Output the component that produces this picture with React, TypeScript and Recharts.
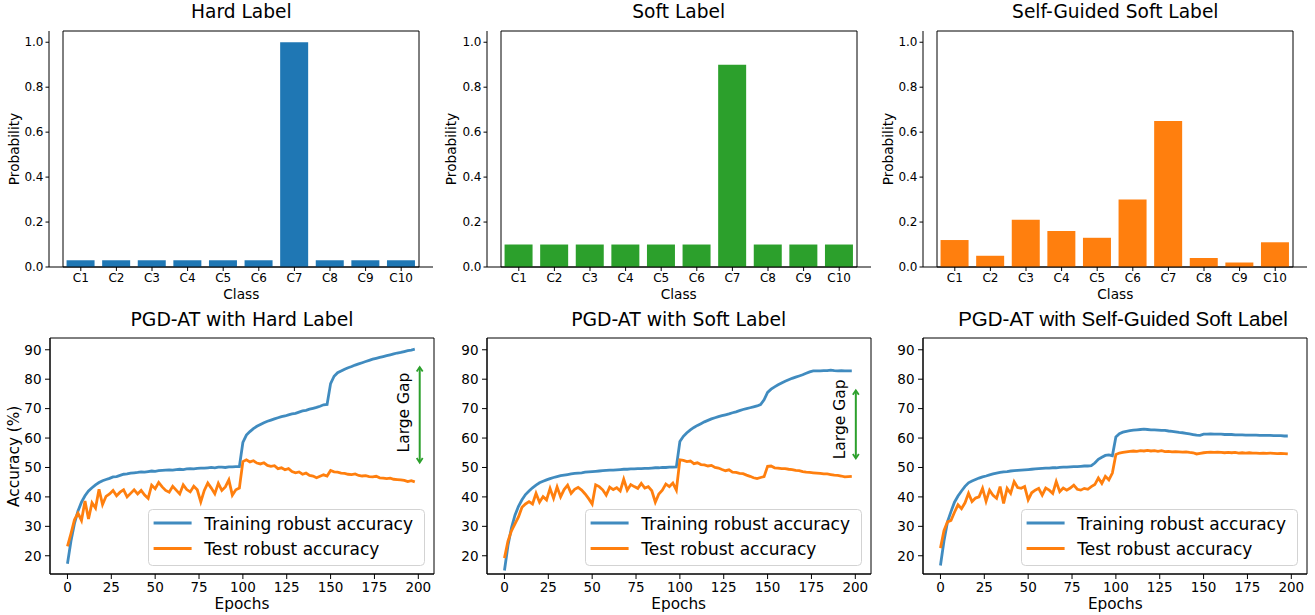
import React from "react";
import { Bar, BarChart, Legend, Line, LineChart, ReferenceArea, ReferenceLine, XAxis, YAxis } from "recharts";

const FONT = '"DejaVu Sans", sans-serif';
const BLUE = "#1f77b4";
const ORANGE = "#ff7f0e";
const GREEN = "#2ca02c";

// label distributions (top row)
const CLASSES = ["C1", "C2", "C3", "C4", "C5", "C6", "C7", "C8", "C9", "C10"];
const HARD_PROBS = [0.03, 0.03, 0.03, 0.03, 0.03, 0.03, 1.0, 0.03, 0.03, 0.03];
const SOFT_PROBS = [0.1, 0.1, 0.1, 0.1, 0.1, 0.1, 0.9, 0.1, 0.1, 0.1];
const SELF_PROBS = [0.12, 0.05, 0.21, 0.16, 0.13, 0.3, 0.65, 0.04, 0.02, 0.11];
const PROB_TICKS = [0, 0.2, 0.4, 0.6, 0.8, 1.0];
const PROB_DOMAIN = [0, 1.05];

// robust accuracy curves (bottom row), one value every EPOCH_STEP epochs
const EPOCH_STEP = 2;
const EPOCH_TICKS = [0, 25, 50, 75, 100, 125, 150, 175, 200];
const EPOCH_DOMAIN = [-9.95, 208.95];
const ACC_TICKS = [20, 30, 40, 50, 60, 70, 80, 90];
const ACC_DOMAIN = [13.8, 94];

const HARD_TRAIN = [
  17.3, 25.0, 31.0, 35.2, 38.2, 40.4, 42.0, 43.1, 44.1, 44.9,
  45.5, 45.9, 46.3, 46.8, 46.9, 47.3, 47.7, 47.8, 48.1, 48.2,
  48.3, 48.5, 48.4, 48.6, 48.8, 48.7, 48.9, 49.0, 49.1, 49.2,
  49.1, 49.3, 49.4, 49.3, 49.5, 49.6, 49.5, 49.7, 49.8, 49.8,
  49.9, 50.0, 49.9, 50.1, 50.1, 50.0, 50.2, 50.2, 50.3, 50.3,
  58.5, 61.0, 62.2, 63.2, 64.0, 64.6, 65.2, 65.7, 66.1, 66.5,
  66.9, 67.3, 67.5, 67.9, 68.2, 68.4, 68.8, 69.2, 69.4, 69.8,
  70.1, 70.4, 70.8, 71.3, 71.4, 78.5, 81.0, 82.2, 82.8, 83.4,
  83.9, 84.3, 84.8, 85.2, 85.6, 86.0, 86.4, 86.8, 87.1, 87.4,
  87.7, 88.0, 88.3, 88.6, 88.9, 89.1, 89.4, 89.7, 89.9, 90.2,
];
const HARD_TEST = [
  23.2, 27.5, 32.2, 34.5, 32.0, 38.6, 32.5, 38.0, 36.2, 42.6,
  37.4, 40.2, 41.0, 42.2, 40.4, 41.6, 42.4, 40.0, 41.2, 42.4,
  41.0, 42.2, 40.6, 39.5, 44.0, 42.8, 44.9, 43.4, 42.2, 41.6,
  43.6, 42.3, 41.0, 44.1, 42.5, 41.7, 43.6, 42.4, 38.3, 42.2,
  44.7, 43.0, 41.1, 44.6, 42.2, 43.4, 45.8, 40.6, 42.4, 43.0,
  52.0, 52.6, 51.9, 52.3, 51.5, 51.2, 51.6, 50.7, 50.4, 50.6,
  49.6, 49.9, 49.2, 49.6, 48.6, 48.2, 48.5, 47.7, 48.1, 47.3,
  47.1, 46.5, 47.0, 47.5, 47.1, 49.0, 48.5, 48.4, 48.1, 48.0,
  47.7, 47.6, 47.8, 47.3, 47.1, 47.2, 46.9, 46.8, 47.0, 46.5,
  46.4, 46.2, 46.4, 46.0, 45.9, 45.8, 45.6, 45.2, 45.5, 45.1,
];
const SOFT_TRAIN = [
  15.0, 23.5, 29.5, 33.8, 36.8, 39.0, 40.8, 42.0, 43.1, 44.0,
  44.8, 45.3, 45.8, 46.2, 46.6, 46.9, 47.2, 47.4, 47.6, 47.8,
  48.0, 48.1, 48.2, 48.4, 48.5, 48.6, 48.7, 48.8, 48.9, 49.0,
  49.1, 49.1, 49.2, 49.3, 49.4, 49.4, 49.5, 49.5, 49.6, 49.6,
  49.7, 49.7, 49.8, 49.9, 49.9, 50.0, 50.0, 50.1, 50.1, 50.2,
  58.8, 60.6, 61.8, 62.8, 63.6, 64.3, 64.9, 65.5, 66.0, 66.5,
  66.9, 67.3, 67.6, 67.9, 68.2, 68.6, 68.9, 69.3, 69.7, 70.0,
  70.3, 70.6, 70.9, 71.4, 73.0, 75.5, 76.6, 77.4, 78.1, 78.7,
  79.3, 79.8, 80.3, 80.7, 81.1, 81.5, 82.0, 82.5, 82.8, 82.8,
  82.8, 82.9, 82.9, 83.1, 82.9, 82.8, 82.9, 82.8, 82.8, 82.8,
];
const SOFT_TEST = [
  19.2, 25.0, 28.5, 30.8, 33.2, 36.5, 37.6, 38.4, 37.6, 41.2,
  38.2, 40.1, 39.0, 42.9, 39.5, 43.4, 40.0, 42.5, 44.0, 41.2,
  42.6, 43.2, 42.3, 41.0, 39.4, 37.6, 44.1, 43.5, 42.4, 40.6,
  43.3, 42.5, 43.1, 42.0, 46.0, 42.3, 44.2, 43.5, 42.9, 44.6,
  43.0, 43.5, 42.1, 38.2, 41.0, 42.3, 44.4, 43.5, 44.7, 42.3,
  52.6, 52.4, 52.0, 52.2, 51.3, 51.6, 51.0, 50.9, 50.5, 50.7,
  50.0, 49.8, 49.3, 48.9, 49.2, 48.4, 48.3, 48.0, 47.9, 47.4,
  47.0, 46.5, 46.2, 46.6, 46.9, 50.4, 50.5, 49.9, 49.8, 49.6,
  49.6, 49.4, 49.3, 49.0, 48.9, 48.6, 48.4, 48.3, 48.2, 48.1,
  48.0, 47.8, 47.8, 47.6, 47.4, 47.3, 47.1, 46.8, 46.9, 47.0,
];
const SELF_TRAIN = [
  16.7, 25.0, 31.5, 35.0, 38.2, 40.3, 42.0, 43.6, 44.8, 45.4,
  45.9, 46.4, 46.8, 47.1, 47.5, 47.8, 48.1, 48.3, 48.5, 48.6,
  48.8, 48.9, 49.0, 49.1, 49.2, 49.3, 49.4, 49.5, 49.6, 49.7,
  49.8, 49.8, 49.9, 49.9, 50.0, 50.1, 50.1, 50.2, 50.3, 50.3,
  50.4, 50.5, 50.5, 50.6, 51.5, 52.8, 53.5, 54.1, 54.3, 54.0,
  60.4, 61.5, 62.0, 62.3, 62.5, 62.7, 62.8, 62.9, 63.0, 62.9,
  62.8, 62.8, 62.7, 62.6, 62.6, 62.4, 62.3, 62.1, 61.9, 61.8,
  61.6, 61.4, 61.2, 61.0, 60.9, 61.3, 61.3, 61.4, 61.3, 61.3,
  61.3, 61.2, 61.2, 61.2, 61.1, 61.1, 61.1, 61.0, 61.0, 61.0,
  61.0, 60.9, 60.9, 60.9, 60.9, 60.8, 60.8, 60.8, 60.7, 60.7,
];
const SELF_TEST = [
  22.6, 28.5, 31.5, 32.0, 34.8, 37.3, 36.0, 38.0, 41.2, 38.4,
  39.6, 40.0, 42.9, 38.5, 42.3, 40.5, 39.5, 43.5, 37.8, 42.9,
  41.2, 45.2, 43.2, 42.9, 43.5, 39.0, 41.4, 42.3, 42.9, 40.6,
  43.0, 42.3, 41.2, 45.2, 41.8, 43.0, 42.3, 43.0, 44.0, 42.6,
  42.3, 42.9, 42.6, 43.5, 44.2, 46.4, 44.6, 47.0, 45.8, 48.1,
  54.4, 54.9, 55.1, 55.3, 55.5, 55.6, 55.5, 55.7, 55.6, 55.8,
  55.6, 55.7, 55.5, 55.7, 55.4, 55.5, 55.3, 55.4, 55.3, 55.2,
  55.3, 55.1, 55.0, 54.6, 54.8, 55.0, 55.1, 55.2, 55.1, 55.2,
  55.1, 55.0, 55.1, 55.0, 55.1, 54.9, 55.0, 54.9, 55.0, 54.9,
  54.9, 54.8, 54.9, 54.8, 54.9, 54.8, 54.7, 54.8, 54.7, 54.6,
];

const TOP_LEFTS = [49.3, 486.7, 923.3];
const BOTTOM_LEFTS = [50, 486.7, 923.3];
const PLOT_W = 384;
const AXIS_W = 45;

const barRows = (probs: number[]) => CLASSES.map((c, i) => ({ cls: c, p: probs[i] }));
const lineRows = (train: number[], test: number[]) =>
  train.map((v, i) => ({ epoch: i * EPOCH_STEP, train: v, test: test[i] }));

function BarPanel({ left, probs, color }: { left: number; probs: number[]; color: string }) {
  const tick = { fill: "#000", fontSize: 12, fontFamily: FONT };
  return (
    <div style={{ position: "absolute", left: left - AXIS_W, top: 20 }}>
      <BarChart
        width={AXIS_W + PLOT_W + 5}
        height={290}
        data={barRows(probs)}
        margin={{ top: 11, right: 5, bottom: 0, left: 0 }}
        barCategoryGap="10%"
      >
        <XAxis
          dataKey="cls"
          interval={0}
          padding={{ left: 14, right: 14 }}
          height={43}
          stroke="#000"
          tickSize={4}
          tickMargin={2.5}
          tick={tick}
        />
        <YAxis
          domain={PROB_DOMAIN}
          allowDataOverflow
          ticks={PROB_TICKS}
          tickFormatter={(v: number) => v.toFixed(1)}
          width={AXIS_W}
          stroke="#000"
          tickSize={3.5}
          tickMargin={2}
          tick={tick}
        />
        <Bar dataKey="p" fill={color} isAnimationActive={false} />
        {/* frame: top and right spines */}
        <ReferenceArea y1={PROB_DOMAIN[0]} y2={PROB_DOMAIN[1]} fill="none" stroke="#000" strokeWidth={1} ifOverflow="visible" />
      </BarChart>
    </div>
  );
}

function LegendBox() {
  return (
    <svg width={277} height={57} style={{ display: "block" }}>
      <rect x={0.5} y={0.5} width={276} height={56} rx={4} fill="rgba(255,255,255,0.8)" stroke="#d3d3d3" />
      <line x1={5.6} x2={43.6} y1={14} y2={14} stroke={BLUE} strokeOpacity={0.85} strokeWidth={3} />
      <line x1={5.6} x2={43.6} y1={39.4} y2={39.4} stroke={ORANGE} strokeWidth={3} />
      <text x={56.3} y={20.7} fontSize={17} fontFamily={FONT} fill="#000">Training robust accuracy</text>
      <text x={56.3} y={46} fontSize={17} fontFamily={FONT} fill="#000">Test robust accuracy</text>
    </svg>
  );
}

function GapArrow(props: any) {
  const { x1, y1, y2, textDy } = props;
  const top = Math.min(y1, y2);
  const bottom = Math.max(y1, y2);
  const x = x1;
  const ty = (top + bottom) / 2 + textDy;
  return (
    <g>
      <line x1={x} y1={top + 1} x2={x} y2={bottom - 1} stroke={GREEN} strokeWidth={2} />
      <path d={`M${x - 3},${top + 5} L${x},${top + 0.5} L${x + 3},${top + 5}`} fill="none" stroke={GREEN} strokeWidth={1.8} />
      <path d={`M${x - 3},${bottom - 5} L${x},${bottom - 0.5} L${x + 3},${bottom - 5}`} fill="none" stroke={GREEN} strokeWidth={1.8} />
      <text
        x={x - 11}
        y={ty}
        transform={`rotate(-90 ${x - 11} ${ty})`}
        textAnchor="middle"
        fontSize={15.5}
        fontFamily={FONT}
        fill="#000"
      >
        Large Gap
      </text>
    </g>
  );
}

type Gap = { x: number; low: number; high: number; textDy: number };

function LinePanel({ left, train, test, gap }: { left: number; train: number[]; test: number[]; gap?: Gap }) {
  const tick = { fill: "#000", fontSize: 13.5, fontFamily: FONT };
  return (
    <div style={{ position: "absolute", left: left - AXIS_W, top: 325 }}>
      <LineChart
        width={AXIS_W + PLOT_W + 5}
        height={290}
        data={lineRows(train, test)}
        margin={{ top: 13, right: 5, bottom: 0, left: 0 }}
      >
        <XAxis
          dataKey="epoch"
          type="number"
          domain={EPOCH_DOMAIN}
          allowDataOverflow
          ticks={EPOCH_TICKS}
          height={41}
          stroke="#000"
          tickSize={5}
          tickMargin={3.5}
          tick={tick}
        />
        <YAxis
          domain={ACC_DOMAIN}
          allowDataOverflow
          ticks={ACC_TICKS}
          width={AXIS_W}
          stroke="#000"
          tickSize={5}
          tickMargin={3.5}
          tick={tick}
        />
        <ReferenceArea y1={ACC_DOMAIN[0]} y2={ACC_DOMAIN[1]} fill="none" stroke="#000" strokeWidth={1} ifOverflow="visible" />
        <Line type="linear" dataKey="train" stroke={BLUE} strokeOpacity={0.85} strokeWidth={2.8} dot={false} isAnimationActive={false} />
        <Line type="linear" dataKey="test" stroke={ORANGE} strokeWidth={2.8} dot={false} isAnimationActive={false} />
        {gap && (
          <ReferenceLine
            segment={[{ x: gap.x, y: gap.low }, { x: gap.x, y: gap.high }]}
            ifOverflow="visible"
            shape={(p: any) => <GapArrow {...p} textDy={gap.textDy} />}
          />
        )}
        <Legend
          layout="horizontal"
          verticalAlign="middle"
          align="center"
          wrapperStyle={{ left: AXIS_W + PLOT_W - 9 - 277, top: 184.3, width: 277, height: 57 }}
          content={() => <LegendBox />}
        />
      </LineChart>
    </div>
  );
}

const TOP_TITLES = ["Hard Label", "Soft Label", "Self-Guided Soft Label"];
const BOTTOM_TITLES = ["PGD-AT with Hard Label", "PGD-AT with Soft Label", "PGD-AT with Self-Guided Soft Label"];

export default function App() {
  return (
    <div style={{ position: "absolute", left: 0, top: 0, width: 1315, height: 615, background: "#fff", overflow: "hidden" }}>
      <BarPanel left={TOP_LEFTS[0]} probs={HARD_PROBS} color={BLUE} />
      <BarPanel left={TOP_LEFTS[1]} probs={SOFT_PROBS} color={GREEN} />
      <BarPanel left={TOP_LEFTS[2]} probs={SELF_PROBS} color={ORANGE} />

      <LinePanel left={BOTTOM_LEFTS[0]} train={HARD_TRAIN} test={HARD_TEST} gap={{ x: 200.8, low: 51.5, high: 84.3, textDy: -2.3 }} />
      <LinePanel left={BOTTOM_LEFTS[1]} train={SOFT_TRAIN} test={SOFT_TEST} gap={{ x: 200.3, low: 52.9, high: 76.4, textDy: -5 }} />
      <LinePanel left={BOTTOM_LEFTS[2]} train={SELF_TRAIN} test={SELF_TEST} />

      <svg width={1315} height={615} style={{ position: "absolute", left: 0, top: 0, pointerEvents: "none" }}>
        {TOP_TITLES.map((t, i) => (
          <g key={t} fontFamily={FONT} fill="#000">
            <text x={TOP_LEFTS[i] + PLOT_W / 2} y={17.5} textAnchor="middle" fontSize={18.6}>{t}</text>
            <text x={TOP_LEFTS[i] + PLOT_W / 2} y={299} textAnchor="middle" fontSize={13.7}>Class</text>
            <text
              x={TOP_LEFTS[i] - 30.8}
              y={149}
              textAnchor="middle"
              fontSize={13.7}
              transform={`rotate(-90 ${TOP_LEFTS[i] - 30.8} 149)`}
            >
              Probability
            </text>
          </g>
        ))}
        {BOTTOM_TITLES.map((t, i) => (
          <g key={t} fill="#000">
            {i < 2 ? (
              <text x={BOTTOM_LEFTS[i] + PLOT_W / 2} y={325.7} textAnchor="middle" fontSize={18.8} fontFamily={FONT}>{t}</text>
            ) : (
              <text x={1123} y={325.7} textAnchor="middle" fontSize={20.5} fontFamily='"Liberation Sans", Arial, sans-serif'>{t}</text>
            )}
            <text x={BOTTOM_LEFTS[i] + PLOT_W / 2} y={609} textAnchor="middle" fontSize={15.3} fontFamily={FONT}>Epochs</text>
          </g>
        ))}
        <text x={19.5} y={456.3} textAnchor="middle" fontSize={15.3} fontFamily={FONT} fill="#000" transform="rotate(-90 19.5 456.3)">
          Accuracy (%)
        </text>
      </svg>
    </div>
  );
}
